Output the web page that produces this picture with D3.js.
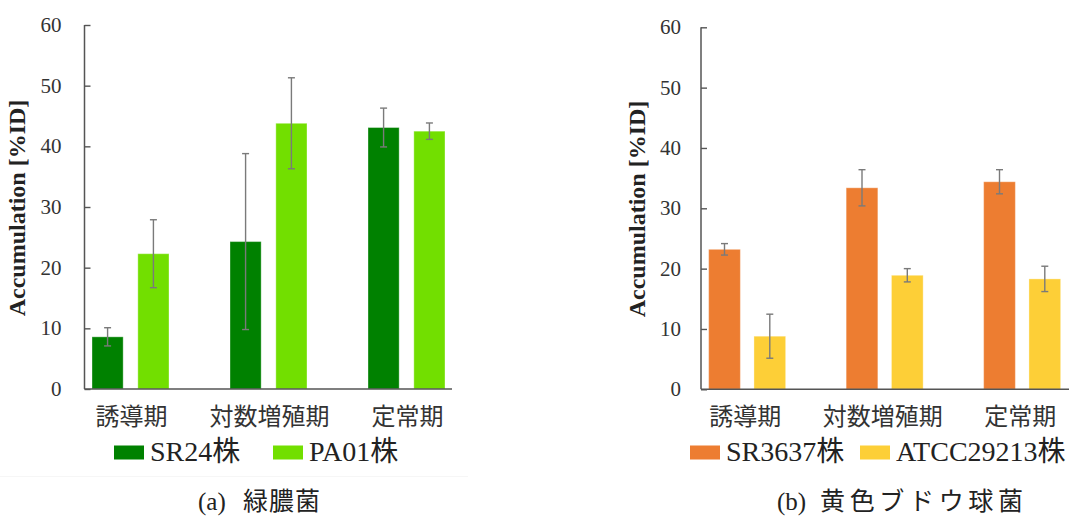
<!DOCTYPE html>
<html>
<head>
<meta charset="utf-8">
<script src="https://cdn.jsdelivr.net/npm/d3@7"></script>
<style>
  html, body { margin: 0; padding: 0; background: #fff; }
  svg { display: block; }
  .serif { font-family: "Liberation Serif", "Times New Roman", Times, "DejaVu Serif", serif; }
  .cjk { font-family: "Noto Sans CJK JP", "Noto Sans CJK SC", sans-serif; }
  .mixed { font-family: "Liberation Serif", "Times New Roman", Times, "Noto Sans CJK JP", serif; }
</style>
</head>
<body>
<svg id="chart" width="1072" height="519"></svg>
<script>
// Growth phases shared by both panels
const phases = ["誘導期", "対数増殖期", "定常期"];
const yTicks = [0, 10, 20, 30, 40, 50, 60];

// (a) Pseudomonas aeruginosa strains
const seriesA = ["SR24株", "PA01株"];
const sr24Mean = [8.6, 24.3, 43.1];
const sr24Err = [1.5, 14.5, 3.2];
const pa01Mean = [22.3, 43.8, 42.5];
const pa01Err = [5.6, 7.5, 1.35];

// (b) Staphylococcus aureus strains
const seriesB = ["SR3637株", "ATCC29213株"];
const sr3637Mean = [23.2, 33.4, 34.4];
const sr3637Err = [0.95, 3.0, 2.0];
const atccMean = [8.8, 18.9, 18.3];
const atccErr = [3.65, 1.1, 2.1];

const svg = d3.select("#chart");

function drawPanel(cfg) {
  const g = svg.append("g");

  const y = d3.scaleLinear().domain([0, 60]).range([cfg.yBottom, cfg.yTop]);
  const x = d3.scaleBand().domain(phases)
    .range([cfg.xStart, cfg.xStart + cfg.step * phases.length])
    .paddingInner(cfg.groupPad).paddingOuter(cfg.groupPad / 2);
  const xs = d3.scaleBand().domain(cfg.series)
    .range([0, x.bandwidth()]).paddingInner(cfg.barPad);

  const rows = [];
  cfg.series.forEach((s, si) => {
    phases.forEach((p, pi) => {
      rows.push({ series: s, phase: p, mean: cfg.means[si][pi], err: cfg.errs[si][pi], color: cfg.colors[si] });
    });
  });

  // bars
  g.selectAll("rect.bar").data(rows).enter().append("rect")
    .attr("class", "bar")
    .attr("x", d => x(d.phase) + xs(d.series))
    .attr("width", xs.bandwidth())
    .attr("y", d => y(d.mean))
    .attr("height", d => y(0) - y(d.mean))
    .attr("fill", d => d.color)
    .attr("stroke", "rgba(255,255,255,0.35)")
    .attr("stroke-width", 1);

  // error bars
  const eb = g.selectAll("g.err").data(rows).enter().append("g").attr("class", "err")
    .attr("stroke", "#7a7a7a").attr("stroke-width", 1.4);
  const cx = d => x(d.phase) + xs(d.series) + xs.bandwidth() / 2;
  eb.append("line")
    .attr("x1", cx).attr("x2", cx)
    .attr("y1", d => y(d.mean + d.err)).attr("y2", d => y(d.mean - d.err));
  eb.append("line")
    .attr("x1", d => cx(d) - 3.5).attr("x2", d => cx(d) + 3.5)
    .attr("y1", d => y(d.mean + d.err)).attr("y2", d => y(d.mean + d.err));
  eb.append("line")
    .attr("x1", d => cx(d) - 3.5).attr("x2", d => cx(d) + 3.5)
    .attr("y1", d => y(d.mean - d.err)).attr("y2", d => y(d.mean - d.err));

  // y axis with inward ticks
  const yAxis = d3.axisRight(y).tickValues(yTicks).tickSize(6).tickFormat("");
  const ya = g.append("g").attr("transform", `translate(${cfg.axisX},0)`).call(yAxis);
  ya.select(".domain").attr("stroke", "#555").attr("stroke-width", 1.5)
    .attr("d", `M0,${y(60)}V${y(0)}`);
  ya.selectAll(".tick line").attr("stroke", "#555").attr("stroke-width", 1.4);

  g.selectAll("text.ytick").data(yTicks).enter().append("text")
    .attr("class", "ytick serif")
    .attr("x", cfg.axisX - cfg.labelGap)
    .attr("y", d => y(d))
    .attr("dy", "0.34em")
    .attr("text-anchor", "end")
    .attr("font-size", 21).attr("fill", "#333")
    .text(d => d);

  // x axis baseline
  g.append("line")
    .attr("x1", cfg.axisX).attr("x2", cfg.axisEnd)
    .attr("y1", y(0)).attr("y2", y(0))
    .attr("stroke", "#555").attr("stroke-width", 1.5);

  // category labels
  g.selectAll("text.cat").data(phases).enter().append("text")
    .attr("class", "cat cjk")
    .attr("x", d => x(d) + x.bandwidth() / 2 + cfg.catShift)
    .attr("y", 425)
    .attr("text-anchor", "middle")
    .attr("font-size", 24).attr("fill", "#333")
    .text(d => d);

  // axis title
  g.append("text")
    .attr("class", "serif")
    .attr("transform", `translate(${cfg.titleX},${cfg.titleY}) rotate(-90)`)
    .attr("text-anchor", "middle")
    .attr("font-weight", "bold").attr("font-size", 24)
    .attr("fill", "#222")
    .text("Accumulation [%ID]");

  // legend
  cfg.series.forEach((s, i) => {
    g.append("rect")
      .attr("x", cfg.legendX[i]).attr("y", 445.5)
      .attr("width", 30).attr("height", 14)
      .attr("fill", cfg.colors[i]);
    g.append("text")
      .attr("class", "mixed")
      .attr("x", cfg.legendX[i] + 36).attr("y", 461)
      .attr("font-size", 28).attr("fill", "#222")
      .text(s);
  });

  // caption
  g.append("text")
    .attr("class", "serif")
    .attr("x", cfg.capX).attr("y", 510)
    .attr("font-size", 25).attr("fill", "#222")
    .text(cfg.capTag);
  g.append("text")
    .attr("class", "cjk")
    .attr("x", cfg.capTextX).attr("y", 510)
    .attr("font-size", 25).attr("fill", "#222")
    .attr("textLength", cfg.capTextLen).attr("lengthAdjust", "spacing")
    .text(cfg.capText);
}

// faint separator under panel (a)
svg.append("line").attr("x1", 0).attr("x2", 468).attr("y1", 476.5).attr("y2", 476.5)
  .attr("stroke", "#f6f6f6").attr("stroke-width", 1);

drawPanel({
  series: seriesA,
  means: [sr24Mean, pa01Mean],
  errs: [sr24Err, pa01Err],
  colors: ["#008100", "#72df00"],
  yTop: 25, yBottom: 389,
  axisX: 84.5, axisEnd: 452,
  xStart: 61.5, step: 138, groupPad: 61 / 138, barPad: 0.32,
  labelGap: 23, catShift: 1,
  titleX: 25, titleY: 208,
  legendX: [114, 273],
  capX: 198, capTag: "(a)", capTextX: 243, capText: "緑膿菌", capTextLen: 77
});

drawPanel({
  series: seriesB,
  means: [sr3637Mean, atccMean],
  errs: [sr3637Err, atccErr],
  colors: ["#ed7d31", "#fdcf37"],
  yTop: 27.3, yBottom: 389.3,
  axisX: 701, axisEnd: 1069,
  xStart: 678.4, step: 137.5, groupPad: 60.5 / 137.5, barPad: 0.3,
  labelGap: 20, catShift: -2,
  titleX: 645, titleY: 209,
  legendX: [690, 860],
  capX: 777, capTag: "(b)", capTextX: 820, capText: "黄色ブドウ球菌", capTextLen: 203
});
</script>
</body>
</html>
